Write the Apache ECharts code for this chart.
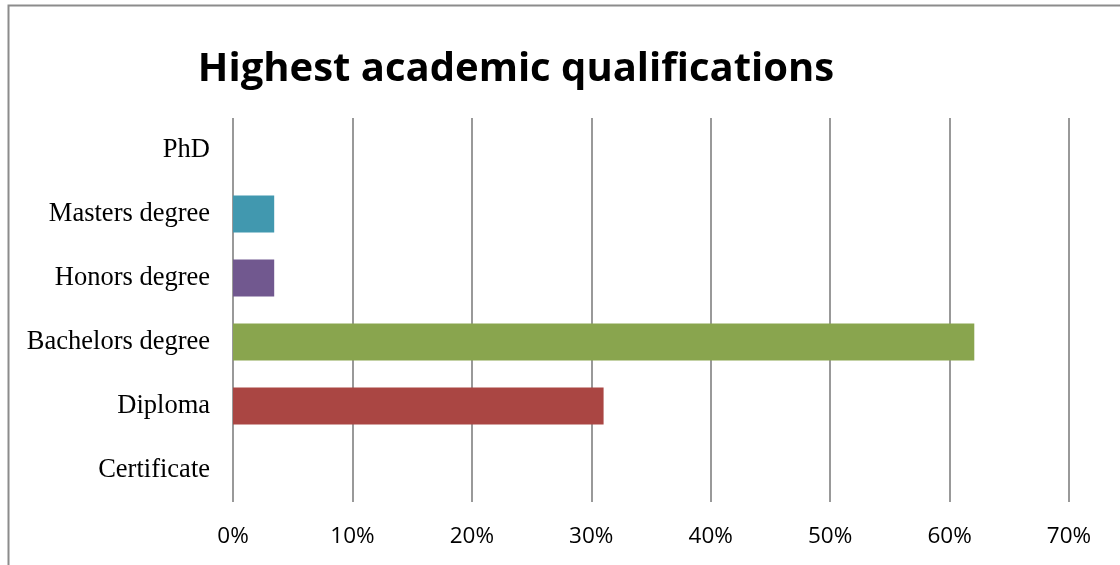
<!DOCTYPE html>
<html>
<head>
<meta charset="utf-8">
<style>
  html, body { margin: 0; padding: 0; background: #fff; }
  #chart { width: 1120px; height: 565px; }
</style>
<script src="https://cdn.jsdelivr.net/npm/echarts@6/dist/echarts.min.js"></script>
</head>
<body>
<div id="chart"></div>
<script>
// Survey: highest academic qualification of respondents (share of 29)
const categories = ['Certificate', 'Diploma', 'Bachelors degree', 'Honors degree', 'Masters degree', 'PhD'];
const shares = [0, 31.03, 62.07, 3.45, 3.45, 0];
const barColors = ['#4572A7', '#AA4643', '#89A54E', '#71588F', '#4198AF', '#DB843D'];
const xTicks = { min: 0, max: 70, step: 10 };

const chart = echarts.init(document.getElementById('chart'), null, { renderer: 'canvas' });

chart.setOption({
  animation: false,
  backgroundColor: '#ffffff',
  graphic: [{
    type: 'rect',
    shape: { x: 8.5, y: 5.5, width: 1300, height: 700 },
    style: { fill: 'none', stroke: '#8c8c8c', lineWidth: 2 },
    silent: true,
    z: 0
  }],
  title: {
    text: 'Highest academic qualifications',
    left: 511,
    textAlign: 'center',
    top: 45,
    textStyle: { fontFamily: 'Open Sans', fontWeight: 'bold', fontSize: 40, color: '#000' }
  },
  grid: { left: 233, right: 51, top: 118, bottom: 63, containLabel: false },
  xAxis: {
    type: 'value',
    min: xTicks.min,
    max: xTicks.max,
    interval: xTicks.step,
    axisLine: { show: false },
    axisTick: { show: false },
    axisLabel: {
      formatter: '{value}%',
      margin: 23,
      fontFamily: 'Open Sans',
      fontSize: 22.5,
      color: '#000'
    },
    splitLine: { show: true, lineStyle: { color: '#999', width: 2 } }
  },
  yAxis: {
    type: 'category',
    data: categories,
    axisLine: { show: false },
    axisTick: { show: false },
    axisLabel: {
      margin: 23,
      fontFamily: 'Liberation Serif',
      fontSize: 26.5,
      color: '#000'
    },
    splitLine: { show: false }
  },
  series: [{
    type: 'bar',
    data: shares.map((v, i) => ({ value: v, itemStyle: { color: barColors[i] } })),
    barCategoryGap: '42%',
    z: 3
  }]
});
</script>
</body>
</html>
